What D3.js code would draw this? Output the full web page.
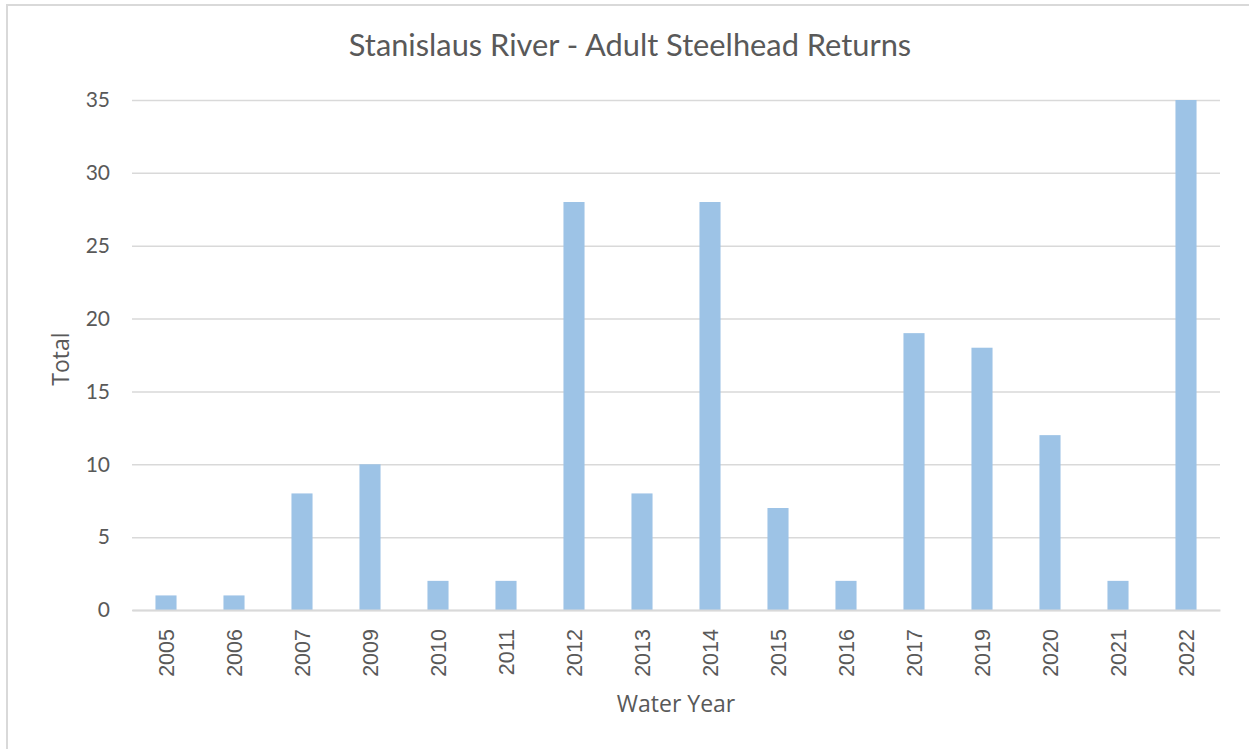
<!DOCTYPE html>
<html>
<head>
<meta charset="utf-8">
<script src="https://cdn.jsdelivr.net/npm/d3@7"></script>
<style>
  html, body { margin: 0; padding: 0; background: #fff; }
  svg { display: block; }
</style>
</head>
<body>
<div id="chart"></div>
<script>
// chart data
var years = ["2005", "2006", "2007", "2009", "2010", "2011", "2012", "2013",
             "2014", "2015", "2016", "2017", "2019", "2020", "2021", "2022"];
var totals = [1, 1, 8, 10, 2, 2, 28, 8, 28, 7, 2, 19, 18, 12, 2, 35];
var yTicks = [0, 5, 10, 15, 20, 25, 30, 35];

var width = 1249, height = 749;
var plot = { left: 132, right: 1220, top: 100, bottom: 610 };
var textColor = "#595959";
var gridColor = "#d9d9d9";

var svg = d3.select("#chart").append("svg")
  .attr("width", width)
  .attr("height", height);

// chart area border (runs off the right / bottom edge)
svg.append("rect")
  .attr("x", 7)
  .attr("y", 5)
  .attr("width", width + 20)
  .attr("height", height + 20)
  .attr("fill", "#fff")
  .attr("stroke", gridColor)
  .attr("stroke-width", 2);

var x = d3.scaleBand()
  .domain(years)
  .range([plot.left, plot.right])
  .paddingInner(0.69)
  .paddingOuter(0.345);

var y = d3.scaleLinear()
  .domain([0, 35])
  .range([plot.bottom, plot.top]);

// gridlines + y labels
var yAxis = d3.axisLeft(y)
  .tickValues(yTicks)
  .tickSize(-(plot.right - plot.left))
  .tickPadding(22);

var gy = svg.append("g")
  .attr("transform", "translate(" + plot.left + ",0)")
  .call(yAxis);
gy.select(".domain").remove();
gy.selectAll(".tick line")
  .attr("stroke", gridColor)
  .attr("stroke-width", 1.5);
gy.selectAll(".tick text")
  .attr("fill", textColor)
  .attr("font-family", "Lato, 'Open Sans', sans-serif")
  .attr("font-size", 21);

// bars
svg.append("g")
  .selectAll("rect")
  .data(totals)
  .join("rect")
  .attr("x", function (d, i) { return x(years[i]); })
  .attr("y", function (d) { return y(d); })
  .attr("width", x.bandwidth())
  .attr("height", function (d) { return y(0) - y(d); })
  .attr("fill", "#9dc3e6");

// x axis
var xAxis = d3.axisBottom(x).tickSize(0).tickPadding(0);
var gx = svg.append("g")
  .attr("transform", "translate(0," + plot.bottom + ")")
  .call(xAxis);
gx.select(".domain")
  .attr("stroke", gridColor)
  .attr("stroke-width", 2);
gx.selectAll(".tick text")
  .attr("fill", textColor)
  .attr("font-family", "'Liberation Sans', Arial, sans-serif")
  .attr("font-size", 21.5)
  .attr("text-anchor", "end")
  .attr("dy", null)
  .attr("y", 0)
  .attr("transform", "translate(8,19) rotate(-90)");

// title
svg.append("text")
  .attr("x", 630)
  .attr("y", 56)
  .attr("text-anchor", "middle")
  .attr("fill", textColor)
  .attr("font-family", "Lato, 'Open Sans', sans-serif")
  .attr("font-size", 30.8)
  .text("Stanislaus River - Adult Steelhead Returns");

// axis titles
svg.append("text")
  .attr("x", (plot.left + plot.right) / 2)
  .attr("y", 712)
  .attr("text-anchor", "middle")
  .attr("fill", textColor)
  .attr("font-family", "'Open Sans', sans-serif")
  .attr("font-size", 23)
  .text("Water Year");

svg.append("text")
  .attr("transform", "translate(69,359) rotate(-90)")
  .attr("text-anchor", "middle")
  .attr("fill", textColor)
  .attr("font-family", "'Open Sans', sans-serif")
  .attr("font-size", 23)
  .text("Total");
</script>
</body>
</html>
